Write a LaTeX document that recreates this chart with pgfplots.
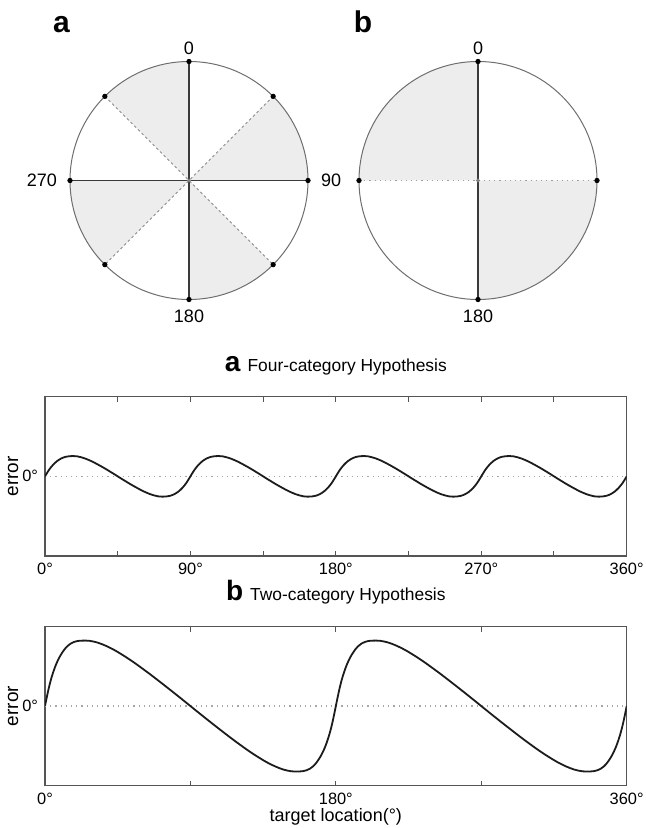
\documentclass[border=0pt]{standalone}
\usepackage{fontspec}
\setmainfont{Liberation Sans}
\usepackage{pgfplots}
\pgfplotsset{compat=1.18}

\definecolor{sectorfill}{HTML}{EDEDED}
\definecolor{rim}{HTML}{6E6E6E}
\definecolor{spoke}{HTML}{3A3A3A}
\definecolor{dashgray}{HTML}{8A8A8A}
\definecolor{frame}{HTML}{555555}
\definecolor{curve}{HTML}{1C1C1C}

\tikzset{wlabel/.style={font=\fontsize{9}{10}\selectfont}}

\pgfplotsset{
  wheel/.style={width=119pt, height=119pt, scale only axis,
    xmin=-1, xmax=1, ymin=-1, ymax=1, enlargelimits=false,
    hide axis, clip=false, anchor=center},
  errplot/.style={anchor=south west, width=290.85pt, height=79.65pt, scale only axis,
    xmin=0, xmax=360, ymin=-1, ymax=1, enlargelimits=false,
    axis line style={frame, line width=0.6pt},
    tick align=inside, tick pos=both,
    major tick length=2.6pt, minor tick length=2.6pt,
    every tick/.style={frame, line width=0.5pt},
    ytick={0}, yticklabels={0°}, ytick style={draw=none},
    tick label style={font=\fontsize{8.2}{9}\selectfont},
    ylabel={error},
    ylabel style={at={(axis description cs:-0.055,0.5)}, anchor=center,
      font=\fontsize{9.5}{11}\selectfont},
    title style={font=\fontsize{8.7}{10}\selectfont, anchor=base, yshift=6.85pt},
  },
}

\begin{document}
\begin{tikzpicture}
\path[use as bounding box] (0,0) rectangle (323pt,-414pt);

% panel letters of the two wheels
\node[font=\fontsize{15}{15}\selectfont\bfseries, anchor=base] at (30.75pt,-16.5pt) {a};
\node[font=\fontsize{15}{15}\selectfont\bfseries, anchor=base] at (181.5pt,-16.2pt) {b};

% wheel a: four categories
\begin{axis}[wheel, at={(94.5pt,-90.25pt)}]
\fill[sectorfill] (axis cs:0,0) -- (axis cs:0,1) arc[start angle=90, end angle=135, radius=59.5pt] -- cycle;
\fill[sectorfill] (axis cs:0,0) -- (axis cs:1,0) arc[start angle=0, end angle=45, radius=59.5pt] -- cycle;
\fill[sectorfill] (axis cs:0,0) -- (axis cs:0,-1) arc[start angle=270, end angle=315, radius=59.5pt] -- cycle;
\fill[sectorfill] (axis cs:0,0) -- (axis cs:-1,0) arc[start angle=180, end angle=225, radius=59.5pt] -- cycle;
\draw[rim, line width=0.5pt] (axis cs:0,0) circle[radius=59.5pt];
\addplot[dashgray, line width=0.45pt, dash pattern=on 1.3pt off 1.3pt] coordinates {(-0.7071,0.7071) (0.7071,-0.7071)};
\addplot[dashgray, line width=0.45pt, dash pattern=on 1.3pt off 1.3pt] coordinates {(0.7071,0.7071) (-0.7071,-0.7071)};
\addplot[spoke, line width=0.7pt] coordinates {(0,1) (0,-1)};
\addplot[spoke, line width=0.7pt] coordinates {(-1,0) (1,0)};
\addplot[only marks, mark=*, mark size=1.1pt, black] coordinates {
  (0,1) (0.7071,0.7071) (1,0) (0.7071,-0.7071) (0,-1) (-0.7071,-0.7071) (-1,0) (-0.7071,0.7071)};
\addplot[only marks, mark=*, mark size=0.8pt, gray] coordinates {(0,0)};
\node[wlabel] at (axis cs:0,1.113) {0};
\node[wlabel] at (axis cs:0,-1.139) {180};
\node[wlabel, anchor=east] at (axis cs:-1.05,0) {270};
\node[wlabel, anchor=west] at (axis cs:1.05,0) {90};
\end{axis}

% wheel b: two categories
\begin{axis}[wheel, at={(239pt,-90.25pt)}]
\fill[sectorfill] (axis cs:0,0) -- (axis cs:0,1) arc[start angle=90, end angle=180, radius=59.5pt] -- cycle;
\fill[sectorfill] (axis cs:0,0) -- (axis cs:0,-1) arc[start angle=270, end angle=360, radius=59.5pt] -- cycle;
\draw[rim, line width=0.5pt] (axis cs:0,0) circle[radius=59.5pt];
\addplot[gray!75, line width=0.6pt, dotted] coordinates {(-1,0) (1,0)};
\addplot[spoke, line width=0.7pt] coordinates {(0,1) (0,-1)};
\addplot[only marks, mark=*, mark size=1.1pt, black] coordinates {(0,1) (1,0) (0,-1) (-1,0)};
\addplot[only marks, mark=*, mark size=0.8pt, gray] coordinates {(0,0)};
\node[wlabel] at (axis cs:0,1.113) {0};
\node[wlabel] at (axis cs:0,-1.139) {180};
\end{axis}

% error curve, four-category hypothesis
\begin{axis}[errplot, at={(22.5pt,-278pt)},
  xtick={0,90,180,270,360}, xticklabels={0°,90°,180°,270°,360°},
  minor xtick={45,135,225,315},
  title={{\fontsize{14}{14}\selectfont\bfseries a}\hspace{3.5pt}Four-category Hypothesis}]
\addplot[gray!70, line width=0.6pt, dotted] coordinates {(0,0) (360,0)};
\addplot[curve, line width=0.9pt, smooth] coordinates {
(0,0) (2.5,0.082) (5,0.145) (7.5,0.192) (10,0.224) (12.5,0.244) (15,0.253) (17.5,0.255) (20,0.251) (22.5,0.239) (25,0.223) (27.5,0.202) (30,0.178) (32.5,0.151) (35,0.123) (37.5,0.094) (40,0.063) (42.5,0.032) (45,0) (47.5,-0.032) (50,-0.063) (52.5,-0.094) (55,-0.123) (57.5,-0.151) (60,-0.178) (62.5,-0.202) (65,-0.223) (67.5,-0.239) (70,-0.251) (72.5,-0.255) (75,-0.253) (77.5,-0.244) (80,-0.224) (82.5,-0.192) (85,-0.145) (87.5,-0.082)
(90,0) (92.5,0.082) (95,0.145) (97.5,0.192) (100,0.224) (102.5,0.244) (105,0.253) (107.5,0.255) (110,0.251) (112.5,0.239) (115,0.223) (117.5,0.202) (120,0.178) (122.5,0.151) (125,0.123) (127.5,0.094) (130,0.063) (132.5,0.032) (135,0) (137.5,-0.032) (140,-0.063) (142.5,-0.094) (145,-0.123) (147.5,-0.151) (150,-0.178) (152.5,-0.202) (155,-0.223) (157.5,-0.239) (160,-0.251) (162.5,-0.255) (165,-0.253) (167.5,-0.244) (170,-0.224) (172.5,-0.192) (175,-0.145) (177.5,-0.082)
(180,0) (182.5,0.082) (185,0.145) (187.5,0.192) (190,0.224) (192.5,0.244) (195,0.253) (197.5,0.255) (200,0.251) (202.5,0.239) (205,0.223) (207.5,0.202) (210,0.178) (212.5,0.151) (215,0.123) (217.5,0.094) (220,0.063) (222.5,0.032) (225,0) (227.5,-0.032) (230,-0.063) (232.5,-0.094) (235,-0.123) (237.5,-0.151) (240,-0.178) (242.5,-0.202) (245,-0.223) (247.5,-0.239) (250,-0.251) (252.5,-0.255) (255,-0.253) (257.5,-0.244) (260,-0.224) (262.5,-0.192) (265,-0.145) (267.5,-0.082)
(270,0) (272.5,0.082) (275,0.145) (277.5,0.192) (280,0.224) (282.5,0.244) (285,0.253) (287.5,0.255) (290,0.251) (292.5,0.239) (295,0.223) (297.5,0.202) (300,0.178) (302.5,0.151) (305,0.123) (307.5,0.094) (310,0.063) (312.5,0.032) (315,0) (317.5,-0.032) (320,-0.063) (322.5,-0.094) (325,-0.123) (327.5,-0.151) (330,-0.178) (332.5,-0.202) (335,-0.223) (337.5,-0.239) (340,-0.251) (342.5,-0.255) (345,-0.253) (347.5,-0.244) (350,-0.224) (352.5,-0.192) (355,-0.145) (357.5,-0.082) (360,0)
};
\end{axis}

% error curve, two-category hypothesis
\begin{axis}[errplot, at={(22.5pt,-392.85pt)},
  xtick={0,180,360}, xticklabels={0°,180°,360°},
  minor xtick={90,270},
  xlabel={target location(°)},
  xlabel style={at={(axis description cs:0.5,0)}, anchor=base, yshift=-18pt,
    font=\fontsize{9}{11}\selectfont},
  title={{\fontsize{14}{14}\selectfont\bfseries b}\hspace{3.5pt}Two-category Hypothesis}]
\addplot[gray!70, line width=0.6pt, dotted] coordinates {(0,0) (360,0)};
\addplot[curve, line width=0.9pt, smooth] coordinates {
(0,0) (1,0.1) (2,0.195) (3,0.28) (4,0.355) (5,0.42) (6,0.478) (7,0.53) (8,0.575) (9,0.615) (10,0.65) (12,0.71) (14,0.755) (16,0.786) (18,0.805) (20,0.816) (22.5,0.821) (25,0.822) (27.5,0.819) (30,0.81) (32.5,0.797) (35,0.779) (37.5,0.758) (40,0.734) (42.5,0.708) (45,0.679) (50,0.616) (55,0.548) (60,0.475) (65,0.4) (70,0.322) (75,0.243) (80,0.163) (85,0.082)
(90,0) (95,-0.082) (100,-0.163) (105,-0.243) (110,-0.322) (115,-0.4) (120,-0.475) (125,-0.548) (130,-0.616) (135,-0.679) (137.5,-0.708) (140,-0.734) (142.5,-0.758) (145,-0.779) (147.5,-0.797) (150,-0.81) (152.5,-0.819) (155,-0.822) (157.5,-0.821) (160,-0.816) (162,-0.805) (164,-0.786) (166,-0.755) (168,-0.71) (170,-0.65) (171,-0.615) (172,-0.575) (173,-0.53) (174,-0.478) (175,-0.42) (176,-0.355) (177,-0.28) (178,-0.195) (179,-0.1)
(180,0) (181,0.1) (182,0.195) (183,0.28) (184,0.355) (185,0.42) (186,0.478) (187,0.53) (188,0.575) (189,0.615) (190,0.65) (192,0.71) (194,0.755) (196,0.786) (198,0.805) (200,0.816) (202.5,0.821) (205,0.822) (207.5,0.819) (210,0.81) (212.5,0.797) (215,0.779) (217.5,0.758) (220,0.734) (222.5,0.708) (225,0.679) (230,0.616) (235,0.548) (240,0.475) (245,0.4) (250,0.322) (255,0.243) (260,0.163) (265,0.082)
(270,0) (275,-0.082) (280,-0.163) (285,-0.243) (290,-0.322) (295,-0.4) (300,-0.475) (305,-0.548) (310,-0.616) (315,-0.679) (317.5,-0.708) (320,-0.734) (322.5,-0.758) (325,-0.779) (327.5,-0.797) (330,-0.81) (332.5,-0.819) (335,-0.822) (337.5,-0.821) (340,-0.816) (342,-0.805) (344,-0.786) (346,-0.755) (348,-0.71) (350,-0.65) (351,-0.615) (352,-0.575) (353,-0.53) (354,-0.478) (355,-0.42) (356,-0.355) (357,-0.28) (358,-0.195) (359,-0.1) (360,0)
};
\end{axis}
\end{tikzpicture}
\end{document}
